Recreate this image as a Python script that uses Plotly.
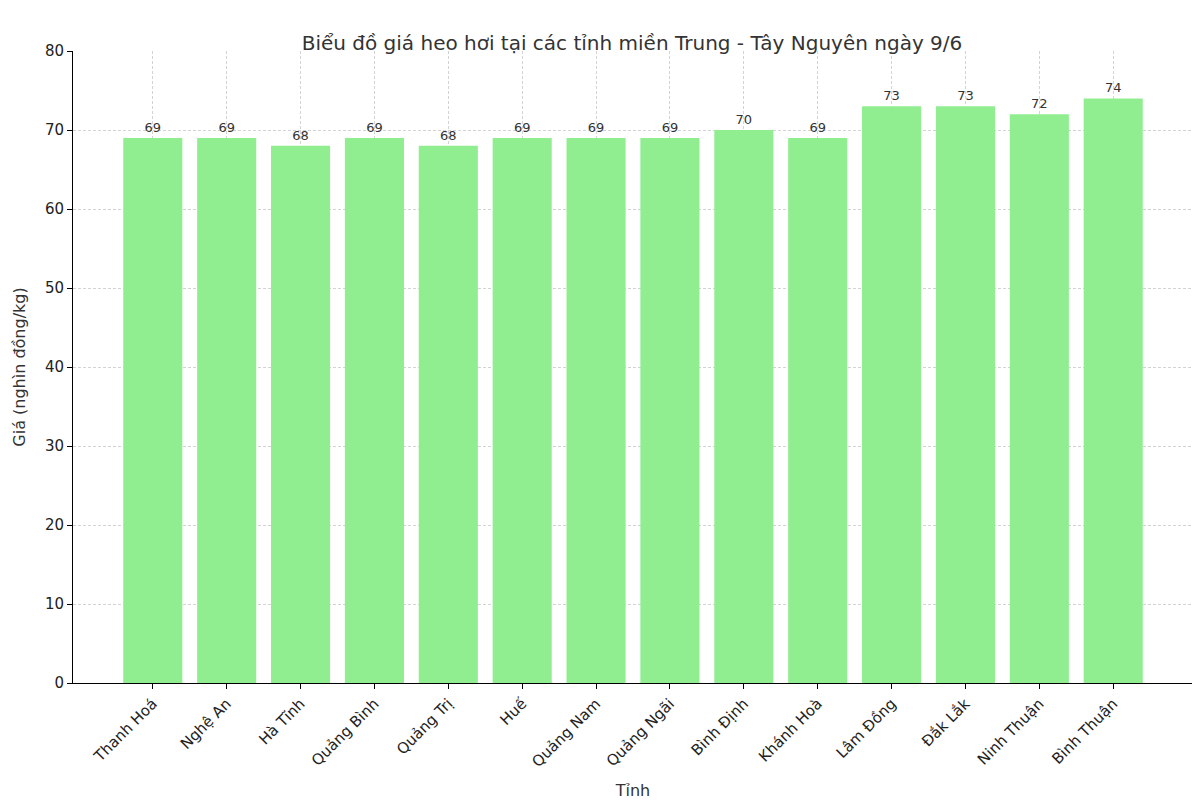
import plotly.graph_objects as go

provinces = ["Thanh Hoá", "Nghệ An", "Hà Tĩnh", "Quảng Bình", "Quảng Trị", "Huế",
             "Quảng Nam", "Quảng Ngãi", "Bình Định", "Khánh Hoà", "Lâm Đồng",
             "Đắk Lắk", "Ninh Thuận", "Bình Thuận"]
prices = [69, 69, 68, 69, 68, 69, 69, 69, 70, 69, 73, 73, 72, 74]

fig = go.Figure(go.Bar(
    x=provinces, y=prices,
    marker=dict(color="#90ee90", line=dict(width=0)),
    text=[str(p) for p in prices], textposition="outside",
    textfont=dict(size=13, color="#333333"),
    width=0.8, cliponaxis=False,
))

axis_common = dict(
    showline=True, linecolor="black", linewidth=1, mirror=False,
    ticks="outside", ticklen=5, tickcolor="black",
    showgrid=True, gridcolor="#d3d3d3", griddash="3px,2px", gridwidth=1,
    tickfont=dict(size=15, color="#222222"), zeroline=False, automargin=False,
)

fig.update_xaxes(**axis_common, tickangle=-45, title=dict(text="Tỉnh", font=dict(size=16)),
                 range=[-1.08, 14.08])
fig.update_yaxes(**axis_common, range=[0, 80], dtick=10,
                 title=dict(text="Giá (nghìn đồng/kg)", font=dict(size=16)))

fig.update_layout(
    width=1200, height=800,
    font=dict(family="DejaVu Sans", color="#333333"),
    title=dict(text="Biểu đồ giá heo hơi tại các tỉnh miền Trung - Tây Nguyên ngày 9/6",
               x=0.52, xanchor="center", y=0.965, font=dict(size=20)),
    plot_bgcolor="white", paper_bgcolor="white",
    margin=dict(l=65, r=15, t=43, b=125),
    showlegend=False,
)

fig.write_html("out.html")
